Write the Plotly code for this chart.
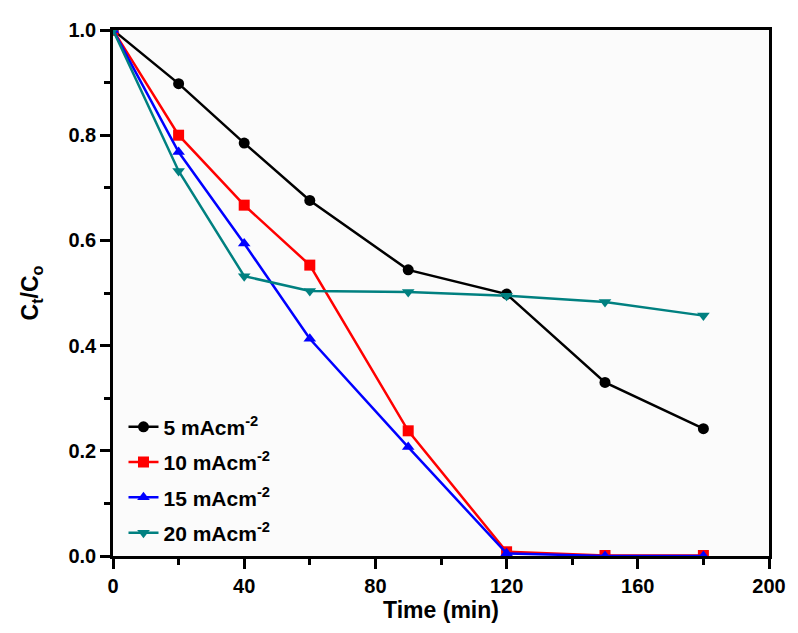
import plotly.graph_objects as go

# Sampling times (min)
time_min = [0, 20, 40, 60, 90, 120, 150, 180]

# Normalised concentration Ct/Co at each current density
ct_5 = [1.0, 0.898, 0.785, 0.676, 0.544, 0.498, 0.330, 0.242]
ct_10 = [1.0, 0.800, 0.667, 0.553, 0.238, 0.008, 0.001, 0.001]
ct_15 = [1.0, 0.768, 0.594, 0.413, 0.207, 0.005, 0.0, 0.0]
ct_20 = [1.0, 0.732, 0.532, 0.504, 0.502, 0.495, 0.483, 0.457]

series_names = ["5 mAcm<sup>-2</sup>", "10 mAcm<sup>-2</sup>",
                "15 mAcm<sup>-2</sup>", "20 mAcm<sup>-2</sup>"]
series_values = [ct_5, ct_10, ct_15, ct_20]
series_colors = ["#000000", "#FF0000", "#0000FF", "#008080"]
series_symbols = ["circle", "square", "triangle-up", "triangle-down"]

x_ticks = [0, 40, 80, 120, 160, 200]
y_ticks = [0.0, 0.2, 0.4, 0.6, 0.8, 1.0]

FONT = "Liberation Sans, Arial, sans-serif"

fig = go.Figure()
for i, (name, vals, col, sym) in enumerate(zip(series_names, series_values, series_colors, series_symbols)):
    fig.add_trace(go.Scatter(
        x=time_min, y=vals, name=name, mode="lines+markers",
        legendgroup=f"g{i}",
        line=dict(color=col, width=2.5),
        marker=dict(symbol=sym, size=11, color=col),
    ))

axis_common = dict(
    showline=True, linecolor="black", linewidth=2.5, mirror=True,
    ticks="outside", tickwidth=2.5, ticklen=10, tickcolor="black",
    showgrid=False, zeroline=False,
    tickfont=dict(family=FONT, size=20, color="black", weight="bold"),
    title_font=dict(family=FONT, size=23, color="black", weight="bold"),
)

fig.update_xaxes(
    range=[0, 200], tickvals=x_ticks, ticktext=[str(v) for v in x_ticks],
    minor=dict(dtick=20, ticks="outside", ticklen=6, tickwidth=2.5, tickcolor="black"),
    title_text="Time (min)", title_standoff=6,
    **axis_common,
)
fig.update_yaxes(
    range=[0, 1.0], tickvals=y_ticks, ticktext=[f"{v:.1f}" for v in y_ticks],
    minor=dict(dtick=0.1, ticks="outside", ticklen=6, tickwidth=2.5, tickcolor="black"),
    title_text="C<sub>t</sub>/C<sub>o</sub>", title_standoff=24,
    **axis_common,
)

fig.update_layout(
    width=798, height=633,
    margin=dict(l=113, r=23, t=30, b=77),
    paper_bgcolor="white", plot_bgcolor="#fbfbfb",
    showlegend=True,
    legend=dict(
        x=0.016, y=0.284, xanchor="left", yanchor="top",
        bgcolor="rgba(0,0,0,0)",
        font=dict(family=FONT, size=21, color="black", weight="bold"),
        tracegroupgap=5,
    ),
)

fig.write_html("out.html")
